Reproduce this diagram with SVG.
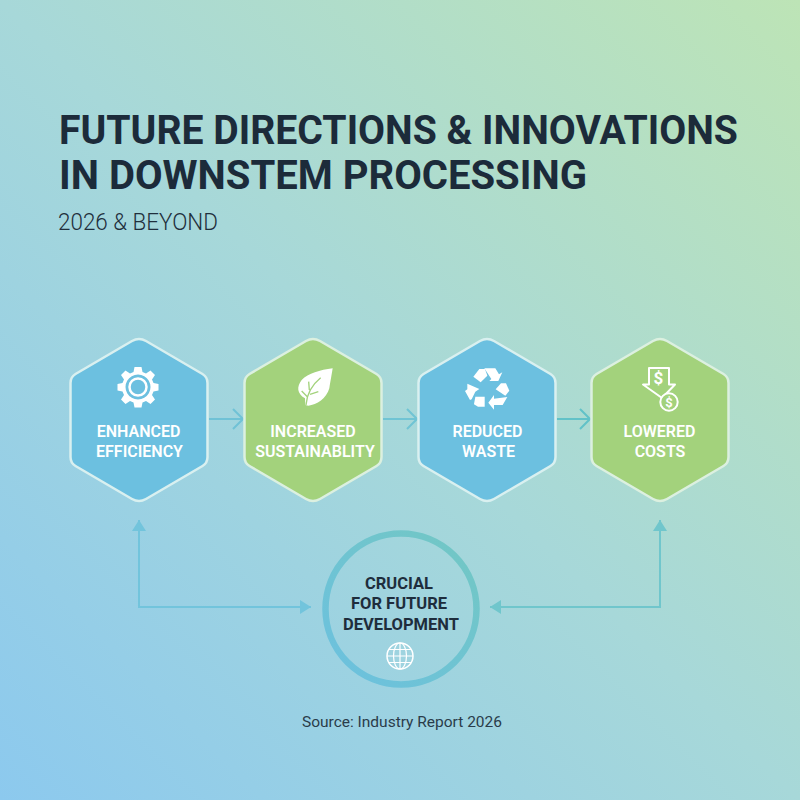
<svg xmlns="http://www.w3.org/2000/svg" width="800" height="800" viewBox="0 0 800 800">
<defs>
<linearGradient id="bg" gradientUnits="userSpaceOnUse" x1="0" y1="800" x2="800" y2="0">
<stop offset="0" stop-color="#8cc9ee"/><stop offset="0.5" stop-color="#a7d8d9"/><stop offset="1" stop-color="#bde4b6"/>
</linearGradient>
<linearGradient id="ring" gradientUnits="userSpaceOnUse" x1="340" y1="680" x2="470" y2="540">
<stop offset="0" stop-color="#6cc1de"/><stop offset="1" stop-color="#72c7c4"/>
</linearGradient>
<path id="hex" d="M-7,-79 Q0,-83 7,-79 L63.500,-46 Q68.500,-43 68.500,-37 L68.500,37 Q68.500,43 63.500,46 L7,79 Q0,83 -7,79 L-63.500,46 Q-68.500,43 -68.500,37 L-68.500,-37 Q-68.500,-43 -63.500,-46 Z"/>
<marker id="open" viewBox="0 0 12 22" refX="11" refY="11" markerWidth="12" markerHeight="22" markerUnits="userSpaceOnUse" orient="auto"><path d="M1,1 L11,11 L1,21" fill="none" stroke="context-stroke" stroke-width="2"/></marker>
<marker id="solid" viewBox="0 0 12 14" refX="11" refY="7" markerWidth="12" markerHeight="14" markerUnits="userSpaceOnUse" orient="auto-start-reverse"><path d="M0,0 L11,7 L0,14 Z" fill="context-stroke"/></marker>
</defs>
<style>
text{font-family:Roboto,"Liberation Sans",sans-serif;text-anchor:middle}
.title{font-size:41px;font-weight:700;fill:#1c2b3a;text-anchor:start}
.sub{font-size:24.500px;font-weight:300;fill:#1f2f3c;text-anchor:start}
.lab{font-size:16px;font-weight:600;fill:#fff}
.dark{font-size:16.500px;font-weight:700;fill:#1e2d3c}
.src{font-size:15.500px;font-weight:400;fill:#2a3c4a}
.blue{fill:#6cc0e0;stroke:#d9f0f0;stroke-width:2.500}
.green{fill:#a3d27c;stroke:#dcf0e0;stroke-width:2.500}
.ic{fill:#fff}
.ico{fill:none;stroke:#fff}
.c{fill:none;stroke-width:2}
</style>
<rect width="800" height="800" fill="url(#bg)"/>
<g id="header">
<text class="title" x="59" y="143.500" textLength="679" lengthAdjust="spacingAndGlyphs">FUTURE DIRECTIONS &amp; INNOVATIONS</text>
<text class="title" x="59" y="189" textLength="528" lengthAdjust="spacingAndGlyphs">IN DOWNSTEM PROCESSING</text>
<text class="sub" x="58" y="230" textLength="160" lengthAdjust="spacingAndGlyphs">2026 &amp; BEYOND</text>
</g>
<g id="connectors">
<path class="c" stroke="#70c2d6" marker-end="url(#open)" d="M209,419 H243"/>
<path class="c" stroke="#70c4d4" marker-end="url(#open)" d="M383,419 H417"/>
<path class="c" stroke="#62c2c8" marker-end="url(#open)" d="M557,419 H590"/>
<path class="c" stroke="#72c4dc" marker-start="url(#solid)" marker-end="url(#solid)" d="M311,607 H139 V520"/>
<path class="c" stroke="#70c6cc" marker-start="url(#solid)" marker-end="url(#solid)" d="M490,607 H660 V520"/>
</g>
<g id="node-efficiency">
<use href="#hex" class="blue" x="139" y="420"/>
<g transform="translate(138,387)">
<path class="ic" fill-rule="evenodd" d="M-3.500,-20 H3.500 L4.500,-15 L8,-13.500 L12.500,-16.500 L17,-12 L14,-7.500 L15.500,-4 L20.500,-3 V3.500 L15.500,4.500 L14,8 L17,12.500 L12.500,17 L8,14 L4.500,15.500 L3.500,20.500 H-3.500 L-4.500,15.500 L-8,14 L-12.500,17 L-17,12.500 L-14,8 L-15.500,4.500 L-20.500,3.500 V-3 L-15.500,-4 L-14,-7.500 L-17,-12 L-12.500,-16.500 L-8,-13.500 L-4.500,-15 Z M0,-12.500 A12.500,12.500 0 1 0 0.010,-12.500 Z"/>
<circle class="ico" r="8.500" stroke-width="2.500"/>
</g>
<text class="lab" x="138.500" y="437">ENHANCED</text>
<text class="lab" x="139.500" y="456.500">EFFICIENCY</text>
</g>
<g id="node-sustainability">
<use href="#hex" class="green" x="313" y="420"/>
<g transform="translate(280,355) scale(.3333)">
<path class="ic" d="M158,40 C120,45 85,55 65,75 C50,95 50,115 75,130 L76,150 L85,152 C110,150 140,130 148,100 C152,75 155,60 158,40 Z"/>
<path d="M78,150 C80,120 95,90 122,68 M88,105 L86,80 M82,125 L65,108 M90,118 L115,110" fill="none" stroke="#a3d27c" stroke-width="4"/>
</g>
<text class="lab" x="313" y="437">INCREASED</text>
<text class="lab" x="315" y="456.500">SUSTAINABLITY</text>
</g>
<g id="node-waste">
<use href="#hex" class="blue" x="487" y="420"/>
<g class="ic" transform="translate(450,355) scale(.3333)">
<path d="M70,65 L88,42 L105,42 L112,62 L92,82 Z"/>
<path d="M103,40 L136,40 L147,58 L157,52 L145,78 L118,78 L124,72 Z"/>
<path d="M153,85 L168,85 L178,107 L166,122 L137,103 Z"/>
<path d="M172,126 L158,150 L132,150 L132,164 L115,143 L132,120 L132,131 Z"/>
<path d="M76,125 L104,125 L104,155 L84,155 L72,148 Z"/>
<path d="M52,86 L88,102 L76,110 L65,133 L60,135 L45,108 L52,103 Z"/>
</g>
<text class="lab" x="487.500" y="437">REDUCED</text>
<text class="lab" x="488.500" y="456.500">WASTE</text>
</g>
<g id="node-costs">
<use href="#hex" class="green" x="660" y="420"/>
<path class="ico" stroke-width="2" stroke-linejoin="round" d="M649,368 H669 V384.500 L675,384.500 L662,398 L643,384.500 L649,384.500 Z"/>
<text x="658.500" y="384" font-size="17" font-weight="700" fill="#fff">$</text>
<circle cx="669" cy="402" r="8.700" fill="#a3d27c" stroke="#fff" stroke-width="2"/>
<text x="669" y="407" font-size="13" font-weight="700" fill="#fff">$</text>
<text class="lab" x="659.500" y="437">LOWERED</text>
<text class="lab" x="660" y="456.500">COSTS</text>
</g>
<g id="node-core">
<circle cx="401" cy="609" r="75.500" fill="none" stroke="url(#ring)" stroke-width="6.500"/>
<text class="dark" x="399" y="589">CRUCIAL</text>
<text class="dark" x="399" y="609">FOR FUTURE</text>
<text class="dark" x="401" y="630">DEVELOPMENT</text>
<g class="ico" stroke-width="1.200" transform="translate(400,656)">
<circle r="13" stroke-width="1.500"/>
<ellipse rx="6.500" ry="13"/>
<path d="M0,-13 V13 M-13,0 H13 M-11.500,-6.500 H11.500 M-11.500,6.500 H11.500"/>
</g>
</g>
<text class="src" x="402" y="727">Source: Industry Report 2026</text>
</svg>
